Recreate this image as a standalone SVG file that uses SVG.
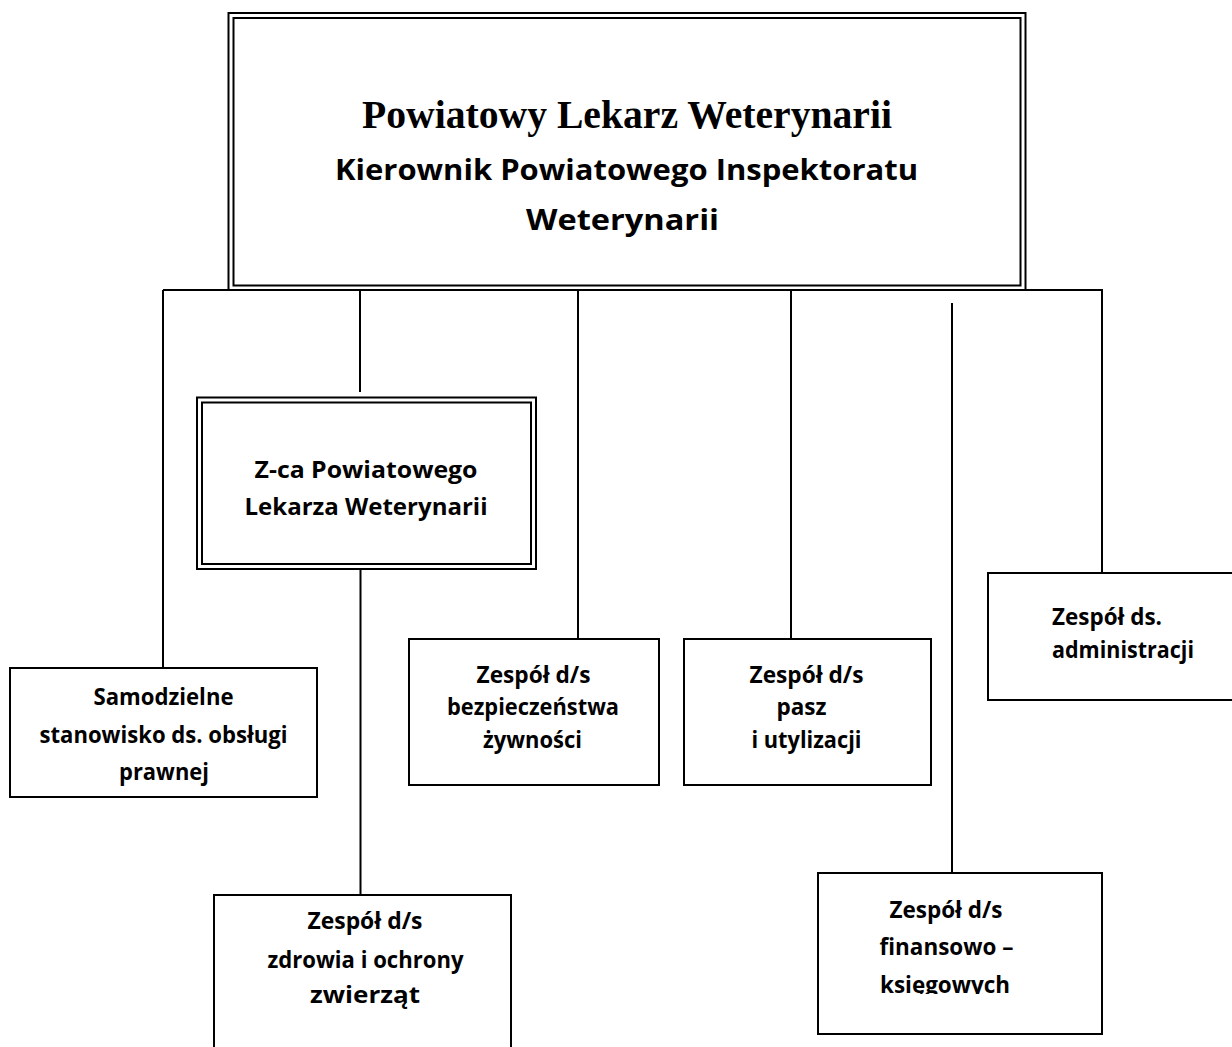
<svg xmlns="http://www.w3.org/2000/svg" width="1232" height="1047" viewBox="0 0 1232 1047">
<style>
.bg{fill:#fff}
.box{fill:#fff;stroke:#000;stroke-width:2}
.dbl{fill:none;stroke:#000;stroke-width:2}
.con{stroke:#000;stroke-width:2;fill:none}
.t{font-family:"Open Sans","Noto Sans","Liberation Sans",sans-serif;font-weight:700;font-size:23.5px;fill:#000;text-anchor:middle}
.tl{text-anchor:start}
.big{font-size:28px}
.ser{font-family:"Liberation Serif","DejaVu Serif",serif;font-weight:700;font-size:40px;fill:#000;text-anchor:middle}
</style>
<defs>
<clipPath id="clipFin"><rect x="818" y="873" width="284" height="121"/></clipPath>
</defs>
<rect class="bg" x="0" y="0" width="1232" height="1047"/>
<g id="connectors">
<line class="con" x1="163" y1="290" x2="1103" y2="290"/>
<line class="con" x1="163" y1="290" x2="163" y2="668"/>
<line class="con" x1="360" y1="290" x2="360" y2="392"/>
<line class="con" x1="578" y1="290" x2="578" y2="639"/>
<line class="con" x1="791" y1="290" x2="791" y2="639"/>
<line class="con" x1="1102" y1="290" x2="1102" y2="573"/>
<line class="con" x1="952" y1="303" x2="952" y2="873"/>
<line class="con" x1="360.5" y1="569" x2="360.5" y2="895"/>
</g>
<g id="node-plw">
<rect class="box" x="228.5" y="13" width="797" height="277"/>
<rect class="dbl" x="233.5" y="18" width="787" height="267.5"/>
<text class="ser" x="627" y="128" textLength="530" lengthAdjust="spacingAndGlyphs">Powiatowy Lekarz Weterynarii</text>
<text class="t big" x="626.5" y="180" textLength="583" lengthAdjust="spacingAndGlyphs">Kierownik Powiatowego Inspektoratu</text>
<text class="t big" x="622.5" y="230" textLength="193" lengthAdjust="spacingAndGlyphs">Weterynarii</text>
</g>
<g id="node-zca">
<rect class="box" x="197" y="397.5" width="339" height="171.5"/>
<rect class="dbl" x="202" y="402.5" width="329" height="161.5"/>
<text class="t" x="366" y="478" textLength="223" lengthAdjust="spacingAndGlyphs">Z-ca Powiatowego</text>
<text class="t" x="366" y="515" textLength="243" lengthAdjust="spacingAndGlyphs">Lekarza Weterynarii</text>
</g>
<g id="node-prawna">
<rect class="box" x="10" y="668" width="307" height="129"/>
<text class="t" x="163.5" y="705" textLength="140" lengthAdjust="spacingAndGlyphs">Samodzielne</text>
<text class="t" x="163.5" y="742.5" textLength="248" lengthAdjust="spacingAndGlyphs">stanowisko ds. obsługi</text>
<text class="t" x="164" y="780" textLength="90" lengthAdjust="spacingAndGlyphs">prawnej</text>
</g>
<g id="node-bezp">
<rect class="box" x="409" y="639" width="250" height="146"/>
<text class="t" x="533.5" y="683" textLength="114" lengthAdjust="spacingAndGlyphs">Zespół d/s</text>
<text class="t" x="533" y="715" textLength="172" lengthAdjust="spacingAndGlyphs">bezpieczeństwa</text>
<text class="t" x="532.5" y="747.5" textLength="99" lengthAdjust="spacingAndGlyphs">żywności</text>
</g>
<g id="node-pasz">
<rect class="box" x="684" y="639" width="247" height="146"/>
<text class="t" x="806.5" y="683" textLength="114" lengthAdjust="spacingAndGlyphs">Zespół d/s</text>
<text class="t" x="801.5" y="715" textLength="50" lengthAdjust="spacingAndGlyphs">pasz</text>
<text class="t" x="806.5" y="747.5" textLength="110" lengthAdjust="spacingAndGlyphs">i utylizacji</text>
</g>
<g id="node-admin">
<rect class="box" x="988" y="573" width="260" height="127"/>
<text class="t tl" x="1052" y="625" textLength="110" lengthAdjust="spacingAndGlyphs">Zespół ds.</text>
<text class="t tl" x="1052" y="658" textLength="142" lengthAdjust="spacingAndGlyphs">administracji</text>
</g>
<g id="node-zdrowie">
<rect class="box" x="214" y="895" width="297" height="160"/>
<text class="t" x="365" y="929" textLength="115" lengthAdjust="spacingAndGlyphs">Zespół d/s</text>
<text class="t" x="365.5" y="967.5" textLength="196" lengthAdjust="spacingAndGlyphs">zdrowia i ochrony</text>
<text class="t" x="365" y="1002.5" textLength="110" lengthAdjust="spacingAndGlyphs">zwierząt</text>
</g>
<g id="node-finanse">
<rect class="box" x="818" y="873" width="284" height="161"/>
<text class="t" x="946" y="917.5" textLength="113" lengthAdjust="spacingAndGlyphs">Zespół d/s</text>
<text class="t" x="946.5" y="955" textLength="134" lengthAdjust="spacingAndGlyphs">finansowo –</text>
<text class="t" x="945" y="992.5" textLength="130" lengthAdjust="spacingAndGlyphs" clip-path="url(#clipFin)">księgowych</text>
</g>
</svg>
